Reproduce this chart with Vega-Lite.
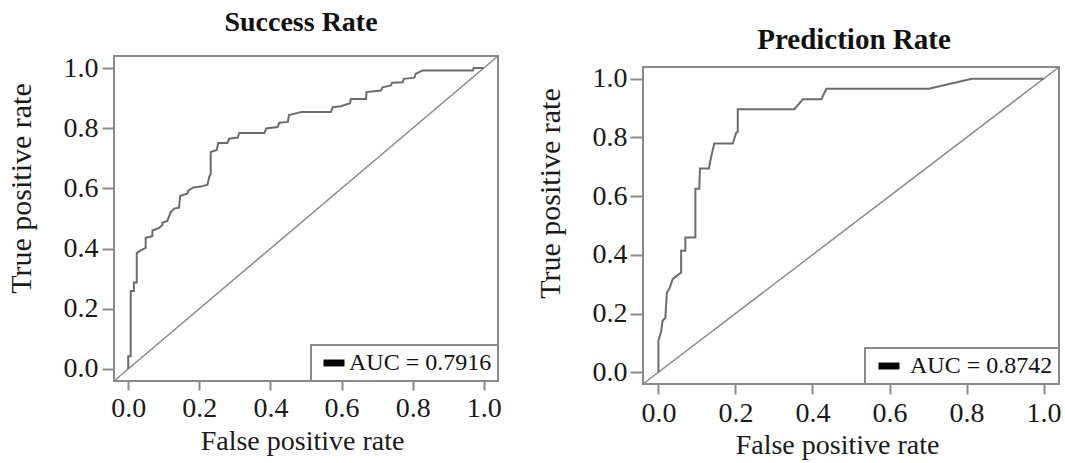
{
  "$schema": "https://vega.github.io/schema/vega-lite/v6.json",
  "background": "white",
  "padding": {"left": 4, "top": 7, "right": 0, "bottom": 0},
  "spacing": 30,
  "config": {
    "view": {"stroke": "#8a8a8a", "strokeWidth": 2},
    "font": "Liberation Serif",
    "axis": {
      "domain": false,
      "grid": false,
      "tickColor": "#8a8a8a",
      "tickWidth": 2,
      "labelFont": "Liberation Serif",
      "labelFontSize": 28,
      "labelColor": "#1a1a1a",
      "labelFlush": false,
      "labelOverlap": false,
      "titleFont": "Liberation Serif",
      "titleFontSize": 28,
      "titleFontWeight": "normal",
      "titleColor": "#1a1a1a"
    }
  },
  "datasets": {
    "success": [
      {"fpr": 0, "tpr": 0}, {"fpr": 0, "tpr": 0.042}, {"fpr": 0.007, "tpr": 0.042}, {"fpr": 0.007, "tpr": 0.259},
      {"fpr": 0.016, "tpr": 0.259}, {"fpr": 0.016, "tpr": 0.287}, {"fpr": 0.024, "tpr": 0.287}, {"fpr": 0.024, "tpr": 0.385},
      {"fpr": 0.035, "tpr": 0.394}, {"fpr": 0.049, "tpr": 0.402}, {"fpr": 0.049, "tpr": 0.436}, {"fpr": 0.068, "tpr": 0.441},
      {"fpr": 0.068, "tpr": 0.46}, {"fpr": 0.087, "tpr": 0.469}, {"fpr": 0.096, "tpr": 0.478}, {"fpr": 0.096, "tpr": 0.486},
      {"fpr": 0.11, "tpr": 0.492}, {"fpr": 0.119, "tpr": 0.52}, {"fpr": 0.129, "tpr": 0.533}, {"fpr": 0.143, "tpr": 0.536},
      {"fpr": 0.146, "tpr": 0.575}, {"fpr": 0.167, "tpr": 0.583}, {"fpr": 0.168, "tpr": 0.592}, {"fpr": 0.183, "tpr": 0.603},
      {"fpr": 0.204, "tpr": 0.606}, {"fpr": 0.223, "tpr": 0.612}, {"fpr": 0.228, "tpr": 0.639}, {"fpr": 0.232, "tpr": 0.648},
      {"fpr": 0.232, "tpr": 0.721}, {"fpr": 0.249, "tpr": 0.728}, {"fpr": 0.253, "tpr": 0.751}, {"fpr": 0.279, "tpr": 0.751},
      {"fpr": 0.284, "tpr": 0.765}, {"fpr": 0.308, "tpr": 0.769}, {"fpr": 0.312, "tpr": 0.784}, {"fpr": 0.383, "tpr": 0.784},
      {"fpr": 0.388, "tpr": 0.799}, {"fpr": 0.42, "tpr": 0.804}, {"fpr": 0.425, "tpr": 0.818}, {"fpr": 0.449, "tpr": 0.821},
      {"fpr": 0.452, "tpr": 0.844}, {"fpr": 0.477, "tpr": 0.851}, {"fpr": 0.486, "tpr": 0.854}, {"fpr": 0.57, "tpr": 0.854},
      {"fpr": 0.575, "tpr": 0.87}, {"fpr": 0.598, "tpr": 0.873}, {"fpr": 0.624, "tpr": 0.883}, {"fpr": 0.626, "tpr": 0.897},
      {"fpr": 0.669, "tpr": 0.897}, {"fpr": 0.67, "tpr": 0.92}, {"fpr": 0.711, "tpr": 0.925}, {"fpr": 0.715, "tpr": 0.936},
      {"fpr": 0.739, "tpr": 0.942}, {"fpr": 0.742, "tpr": 0.951}, {"fpr": 0.772, "tpr": 0.953}, {"fpr": 0.775, "tpr": 0.964},
      {"fpr": 0.805, "tpr": 0.968}, {"fpr": 0.809, "tpr": 0.981}, {"fpr": 0.828, "tpr": 0.992}, {"fpr": 0.969, "tpr": 0.992},
      {"fpr": 0.972, "tpr": 1.0}, {"fpr": 1.0, "tpr": 1.0}
    ],
    "prediction": [
      {"fpr": 0, "tpr": 0}, {"fpr": 0, "tpr": 0.107}, {"fpr": 0.007, "tpr": 0.139}, {"fpr": 0.011, "tpr": 0.176},
      {"fpr": 0.018, "tpr": 0.185}, {"fpr": 0.022, "tpr": 0.271}, {"fpr": 0.029, "tpr": 0.286}, {"fpr": 0.037, "tpr": 0.317},
      {"fpr": 0.055, "tpr": 0.336}, {"fpr": 0.059, "tpr": 0.339}, {"fpr": 0.059, "tpr": 0.414}, {"fpr": 0.07, "tpr": 0.414},
      {"fpr": 0.07, "tpr": 0.459}, {"fpr": 0.096, "tpr": 0.459}, {"fpr": 0.096, "tpr": 0.625}, {"fpr": 0.106, "tpr": 0.625},
      {"fpr": 0.108, "tpr": 0.694}, {"fpr": 0.131, "tpr": 0.694}, {"fpr": 0.137, "tpr": 0.734}, {"fpr": 0.145, "tpr": 0.779},
      {"fpr": 0.193, "tpr": 0.779}, {"fpr": 0.202, "tpr": 0.816}, {"fpr": 0.206, "tpr": 0.819}, {"fpr": 0.206, "tpr": 0.896},
      {"fpr": 0.353, "tpr": 0.896}, {"fpr": 0.375, "tpr": 0.93}, {"fpr": 0.423, "tpr": 0.93}, {"fpr": 0.436, "tpr": 0.966},
      {"fpr": 0.702, "tpr": 0.966}, {"fpr": 0.814, "tpr": 1.0}, {"fpr": 1.0, "tpr": 1.0}
    ],
    "diag": [
      {"fpr": -0.04, "tpr": -0.04}, {"fpr": 1.04, "tpr": 1.04}
    ],
    "none": []
  },
  "hconcat": [
    {
      "spacing": 0,
      "resolve": {"scale": {"color": "independent"}, "legend": {"color": "independent"}},
      "vconcat": [
        {
          "width": 10,
          "height": 1,
          "view": {"stroke": null},
          "data": {"name": "none"},
          "mark": "point"
        },
        {
          "width": 384,
          "height": 325,
          "title": {"text": "Success Rate", "font": "Liberation Serif", "fontSize": 28, "fontWeight": "bold", "color": "#111111", "offset": 16, "dx": -5},
          "layer": [
            {
              "data": {"name": "diag"},
              "mark": {"type": "line", "color": "#8a8a8a", "strokeWidth": 1.5},
              "encoding": {
                "x": {"field": "fpr", "type": "quantitative", "scale": {"domain": [-0.04, 1.04], "nice": false, "zero": false}},
                "y": {"field": "tpr", "type": "quantitative", "scale": {"domain": [-0.04, 1.04], "nice": false, "zero": false}},
                "order": {"value": null}
              }
            },
            {
              "data": {"name": "success"},
              "mark": {"type": "line", "strokeWidth": 2},
              "encoding": {
                "x": {"field": "fpr", "type": "quantitative",
                  "axis": {"values": [0, 0.2, 0.4, 0.6, 0.8, 1.0], "format": ".1f", "tickSize": 9, "labelBaseline": "alphabetic", "labelPadding": 26,
                    "title": "False positive rate", "titleX": 188, "titleY": 68, "titleBaseline": "alphabetic", "titleAlign": "center"}},
                "y": {"field": "tpr", "type": "quantitative",
                  "axis": {"values": [0, 0.2, 0.4, 0.6, 0.8, 1.0], "format": ".1f", "tickSize": 12, "labelPadding": 4,
                    "title": "True positive rate", "titleFontSize": 30, "titleX": -84, "titleY": 132, "titleBaseline": "alphabetic", "titleAlign": "center", "titleAngle": -90}},
                "color": {"datum": "AUC = 0.7916", "type": "nominal", "scale": {"range": ["#6c6c6c"]},
                  "legend": {"orient": "bottom-right", "offset": 0, "title": null, "labelFont": "Liberation Serif", "labelFontSize": 24, "labelColor": "#111111",
                    "padding": 6, "symbolType": "M-1,-0.33H1V0.33H-1Z", "symbolSize": 441, "symbolOffset": 5, "labelOffset": 3,
                    "strokeColor": "#8a8a8a", "fillColor": "white",
                    "encode": {
                      "symbols": {"update": {"fill": {"value": "black"}, "stroke": {"value": "black"}, "strokeWidth": {"value": 0}, "opacity": {"value": 1}}},
                      "legend": {"update": {"strokeWidth": {"value": 2}}}
                    }}},
                "order": {"value": null}
              }
            }
          ]
        }
      ]
    },
    {
      "spacing": 0,
      "resolve": {"scale": {"color": "independent"}, "legend": {"color": "independent"}},
      "vconcat": [
        {
          "width": 10,
          "height": 18,
          "view": {"stroke": null},
          "data": {"name": "none"},
          "mark": "point"
        },
        {
          "width": 416,
          "height": 317,
          "title": {"text": "Prediction Rate", "font": "Liberation Serif", "fontSize": 29, "fontWeight": "bold", "color": "#111111", "offset": 9, "dx": 3},
          "layer": [
            {
              "data": {"name": "diag"},
              "mark": {"type": "line", "color": "#8a8a8a", "strokeWidth": 1.5},
              "encoding": {
                "x": {"field": "fpr", "type": "quantitative", "scale": {"domain": [-0.04, 1.04], "nice": false, "zero": false}},
                "y": {"field": "tpr", "type": "quantitative", "scale": {"domain": [-0.04, 1.04], "nice": false, "zero": false}},
                "order": {"value": null}
              }
            },
            {
              "data": {"name": "prediction"},
              "mark": {"type": "line", "strokeWidth": 2},
              "encoding": {
                "x": {"field": "fpr", "type": "quantitative",
                  "axis": {"values": [0, 0.2, 0.4, 0.6, 0.8, 1.0], "format": ".1f", "tickSize": 10, "labelBaseline": "alphabetic", "labelPadding": 27,
                    "title": "False positive rate", "titleX": 194, "titleY": 69, "titleBaseline": "alphabetic", "titleAlign": "center"}},
                "y": {"field": "tpr", "type": "quantitative",
                  "axis": {"values": [0, 0.2, 0.4, 0.6, 0.8, 1.0], "format": ".1f", "tickSize": 13, "labelPadding": 3,
                    "title": "True positive rate", "titleFontSize": 30, "titleX": -84, "titleY": 126, "titleBaseline": "alphabetic", "titleAlign": "center", "titleAngle": -90}},
                "color": {"datum": "AUC = 0.8742", "type": "nominal", "scale": {"range": ["#6c6c6c"]},
                  "legend": {"orient": "bottom-right", "offset": 0, "title": null, "labelFont": "Liberation Serif", "labelFontSize": 24, "labelColor": "#111111",
                    "padding": 6, "symbolType": "M-1,-0.33H1V0.33H-1Z", "symbolSize": 441, "symbolOffset": 6, "labelOffset": 9,
                    "strokeColor": "#8a8a8a", "fillColor": "white",
                    "encode": {
                      "symbols": {"update": {"fill": {"value": "black"}, "stroke": {"value": "black"}, "strokeWidth": {"value": 0}, "opacity": {"value": 1}}},
                      "legend": {"update": {"strokeWidth": {"value": 2}}}
                    }}},
                "order": {"value": null}
              }
            }
          ]
        }
      ]
    }
  ],
  "resolve": {"scale": {"color": "independent"}, "legend": {"color": "independent"}}
}
